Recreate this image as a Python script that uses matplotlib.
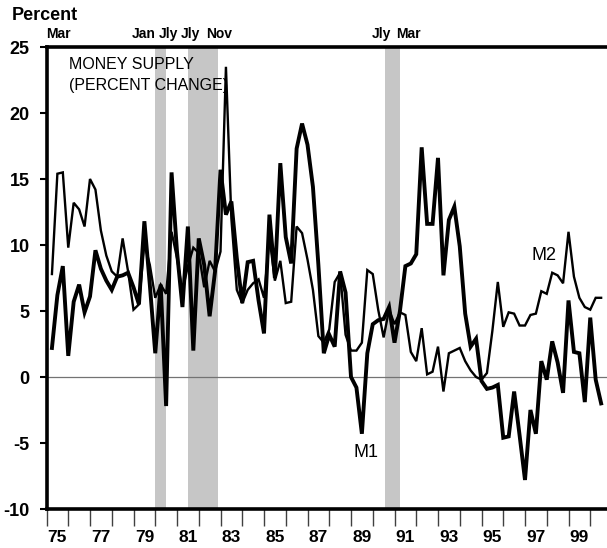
#!/usr/bin/env python
"""

Money supply growth, M1 and M2, quarterly 1975-2000

"""
import numpy as np
import matplotlib
matplotlib.use('Agg')
import matplotlib.pyplot as plt
import matplotlib.transforms as mtransforms

plt.rcParams['font.family'] = ['Liberation Sans', 'DejaVu Sans']

# quarterly percent change (annual rate), 1975Q1 .. 2000Q2
m1 = [2.2, 6.2, 8.4, 1.6, 5.7, 7.0, 4.9, 6.1,
      9.6, 8.2, 7.3, 6.6, 7.6, 7.7, 7.9, 6.8,
      5.5, 11.8, 7.0, 1.8, 7.0, -2.2, 15.5, 9.5,
      5.3, 11.4, 2.0, 10.5, 8.5, 4.6, 8.0, 15.7,
      12.3, 13.3, 9.0, 5.6, 8.7, 8.8, 5.8, 3.3,
      12.3, 7.5, 16.2, 10.6, 8.6, 17.3, 19.2, 17.6,
      14.4, 8.5, 1.8, 3.2, 2.3, 8.0, 6.4, 0.0,
      -0.8, -4.3, 1.8, 4.0, 4.3, 4.4, 5.3, 2.6,
      5.0, 8.4, 8.6, 9.3, 17.4, 11.6, 11.6, 16.6,
      7.7, 11.9, 12.9, 9.9, 4.8, 2.3, 2.9, -0.3,
      -0.9, -0.8, -0.6, -4.6, -4.5, -1.1, -4.4, -7.8,
      -2.5, -4.3, 1.2, -0.2, 2.7, 1.1, -1.2, 5.8,
      1.9, 1.8, -1.9, 4.5, -0.2, -2.0]
m2 = [7.8, 15.4, 15.5, 9.8, 13.2, 12.7, 11.4, 15.0,
      14.2, 11.1, 9.2, 8.0, 7.6, 10.5, 8.0, 5.1,
      5.5, 10.1, 8.5, 6.0, 7.0, 6.3, 11.0, 9.0,
      6.5, 8.4, 9.8, 9.4, 6.8, 8.8, 8.0, 9.5,
      23.5, 12.0, 6.6, 5.6, 6.6, 7.1, 7.4, 6.0,
      10.6, 7.3, 8.8, 5.6, 5.7, 11.4, 10.9, 8.9,
      6.6, 3.1, 2.6, 3.6, 7.2, 7.9, 3.2, 2.0,
      2.0, 2.6, 8.1, 7.8, 5.1, 3.0, 5.1, 4.0,
      4.9, 4.7, 1.9, 1.2, 3.7, 0.2, 0.4, 2.3,
      -1.1, 1.8, 2.0, 2.2, 1.2, 0.5, 0.0, -0.2,
      0.3, 3.5, 7.2, 3.8, 4.9, 4.8, 3.9, 3.9,
      4.7, 4.8, 6.5, 6.3, 7.9, 7.7, 7.1, 11.0,
      7.6, 6.0, 5.3, 5.1, 6.0, 6.0]
quarters = 1975.25 + 0.25 * np.arange(len(m1))

# recessions (start, end) and their month labels
recessions = [(1980.0, 1980.5), (1981.5, 1982.88), (1990.58, 1991.25)]
month_labels = ['Mar', 'Jan', 'Jly', 'Jly', 'Nov', 'Jly', 'Mar']
month_pos = [1975.53, 1979.45, 1980.62, 1981.62, 1982.95, 1990.40, 1991.62]

year_labels = ["%02d" % (y % 100) for y in range(1975, 2000, 2)]

fig = plt.figure(figsize=(6.07, 5.48), dpi=100)
ax = fig.add_axes([46.5 / 607, 39 / 548, 1 - 46.5 / 607, 462 / 548])

for a, b in recessions:
    ax.axvspan(a, b, color='#c6c6c6', lw=0, zorder=0)
ax.axhline(0, color='0.45', lw=0.9, zorder=1)

ax.plot(quarters, m2, color='black', lw=1.7, solid_joinstyle='miter', zorder=3)
ax.plot(quarters, m1, color='black', lw=2.8, solid_joinstyle='miter', zorder=4)

ax.set_xlim(1975, 2000.77)
ax.set_ylim(-10, 25)

# y axis
ax.set_yticks(range(-10, 30, 5))
ax.set_yticklabels([str(v) for v in range(-10, 30, 5)], fontsize=13, fontweight='bold')
ax.tick_params(axis='y', direction='out', length=5, width=1.5, pad=7)

# x axis: labels centred in the year, ticks on year boundaries
ax.set_xticks([y + 0.5 for y in range(1975, 2000, 2)])
ax.set_xticklabels(year_labels, fontsize=12.5, fontweight='bold')
ax.set_xticks(range(1975, 2001), minor=True)
ax.tick_params(axis='x', which='major', length=0, pad=15)
ax.tick_params(axis='x', which='minor', direction='out', length=12, width=1.0, color='0.25')

for side in ['left', 'bottom', 'top']:
    ax.spines[side].set_linewidth(2.6)
ax.spines['right'].set_visible(False)

trans = mtransforms.blended_transform_factory(ax.transData, ax.transAxes)
for lab, pos in zip(month_labels, month_pos):
    ax.text(pos, 1.028, lab, transform=trans, ha='center', va='center',
            fontsize=10, fontweight='bold')

fig.text(12 / 607, 1 - 15 / 548, 'Percent', ha='left', va='center',
         fontsize=13, fontweight='bold')

ax.text(0.040, 0.978, 'MONEY SUPPLY\n(PERCENT CHANGE)', transform=ax.transAxes,
        ha='left', va='top', fontsize=11.5, linespacing=1.45)

ax.text(1997.87, 9.2, 'M2', ha='center', va='center', fontsize=13)
ax.text(1989.69, -5.7, 'M1', ha='center', va='center', fontsize=13)

plt.savefig('out.png', dpi=100)
